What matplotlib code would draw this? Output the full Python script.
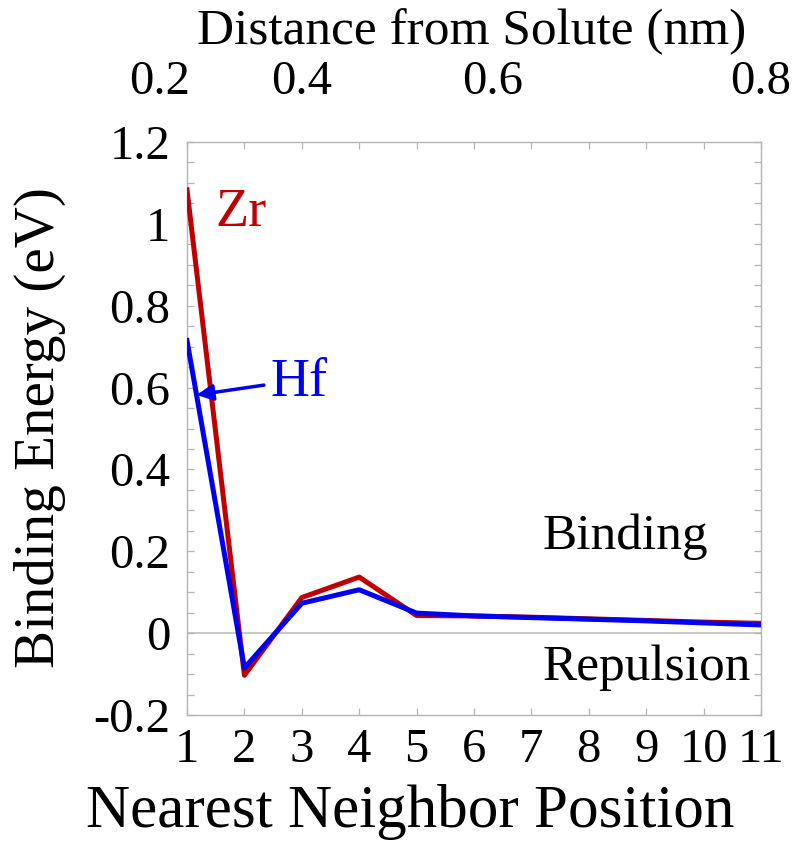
import matplotlib
matplotlib.use("Agg")
import matplotlib.pyplot as plt
import matplotlib.transforms as mtransforms
from matplotlib.ticker import MultipleLocator

plt.rcParams['font.family'] = ['Liberation Serif', 'DejaVu Serif']

# data
positions = [1, 2, 3, 4, 5, 6, 7, 8, 9, 10, 11]
zr_energy = [1.083, -0.103, 0.087, 0.137, 0.043, 0.042, 0.039, 0.035, 0.031, 0.027, 0.024]
hf_energy = [0.715, -0.085, 0.073, 0.106, 0.049, 0.042, 0.038, 0.034, 0.030, 0.025, 0.020]

y_ticks = [-0.2, 0, 0.2, 0.4, 0.6, 0.8, 1, 1.2]
y_labels = ['-0.2', '0', '0.2', '0.4', '0.6', '0.8', '1', '1.2']

# top axis: distance labels, placed at their neighbour-position coordinate
dist_pos = [0.53, 2.99, 6.33, 11.0]
dist_labels = ['0.2', '0.4', '0.6', '0.8']

ZR_COLOR = '#c00000'
HF_COLOR = '#0000f0'
GRAY = '#b4b4b4'

fig = plt.figure(figsize=(7.95, 8.43), dpi=100)
ax = fig.add_axes([187 / 795, 1 - 715 / 843, 574 / 795, 573 / 843])

ax.axhline(0, color='#c4c4c4', lw=1.3, zorder=1)
ax.plot(positions, zr_energy, color=ZR_COLOR, lw=3.6, zorder=3)
ax.plot(positions, hf_energy, color=HF_COLOR, lw=3.6, zorder=4)

ax.set_xlim(1, 11)
ax.set_ylim(-0.2, 1.2)
ax.set_xticks(positions)
ax.set_xticklabels([str(p) for p in positions])
ax.set_yticks(y_ticks)
ax.set_yticklabels(y_labels)
ax.yaxis.set_minor_locator(MultipleLocator(0.05))

for s in ax.spines.values():
    s.set_color(GRAY)
    s.set_linewidth(1.0)

ax.tick_params(axis='both', which='both', direction='in', color=GRAY,
               top=True, right=True, labelsize=35, width=0.9)
ax.tick_params(axis='both', which='major', length=5)
ax.tick_params(axis='y', which='minor', length=5)
ax.tick_params(axis='x', pad=9)
ax.tick_params(axis='y', pad=12)

# top distance labels
trans = mtransforms.blended_transform_factory(ax.transData, fig.transFigure)
for p, lab in zip(dist_pos, dist_labels):
    ax.text(p, 1 - 82 / 843, lab, transform=trans, ha='center', va='center',
            fontsize=35, clip_on=False)

fig.text(472 / 795, 1 - 32 / 843, 'Distance from Solute (nm)', ha='center',
         va='center', fontsize=37)
fig.text(410 / 795, 1 - 812 / 843, 'Nearest Neighbor Position', ha='center',
         va='center', fontsize=44)
fig.text(40 / 795, 1 - 428 / 843, 'Binding Energy (eV)', ha='center',
         va='center', rotation=90, fontsize=41)

ax.text(1.94, 1.027, 'Zr', color=ZR_COLOR, fontsize=39, ha='center', va='center')
ax.text(2.45, 0.611, 'Hf', color=HF_COLOR, fontsize=39, ha='left', va='center')
ax.annotate('', xy=(1.17, 0.582), xytext=(2.34, 0.606),
            arrowprops=dict(arrowstyle='-|>', color=HF_COLOR, lw=2.5,
                            mutation_scale=24, shrinkA=0, shrinkB=0))

ax.text(7.2, 0.235, 'Binding', fontsize=37, ha='left', va='center')
ax.text(7.2, -0.085, 'Repulsion', fontsize=37, ha='left', va='center')

fig.savefig('out.png', dpi=100)
